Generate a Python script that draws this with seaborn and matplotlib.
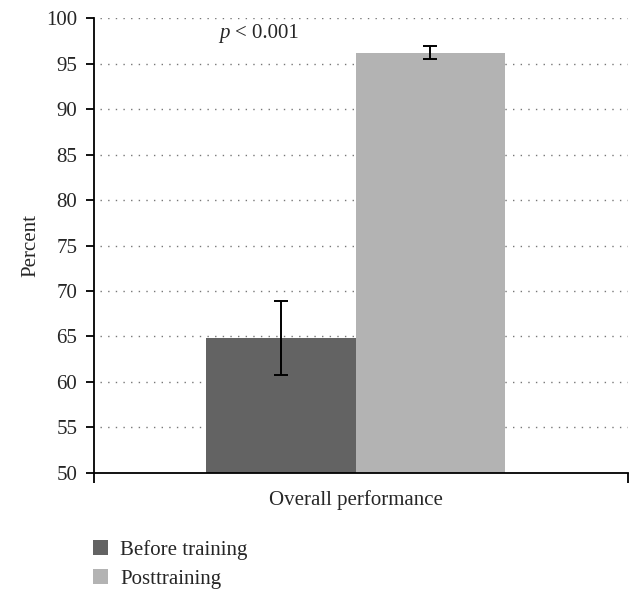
import matplotlib
matplotlib.use("Agg")
import matplotlib.pyplot as plt
import seaborn as sns
import pandas as pd
from matplotlib.patches import Patch

categories = ["Overall performance"]
groups = ["Before training", "Posttraining"]
means = [64.8, 96.2]
errors = [4.05, 0.7]
colors = ["#636363", "#b3b3b3"]
yticks = [50, 55, 60, 65, 70, 75, 80, 85, 90, 95, 100]

sns.set_theme(style="white")
plt.rcParams["font.family"] = ["Liberation Serif", "DejaVu Serif"]

df = pd.DataFrame({"cat": categories * len(groups), "group": groups, "val": means})

fig = plt.figure(figsize=(6.33, 6.01), dpi=100)
ax = fig.add_axes([0.1485, 0.213, 0.8435, 0.757])

for y in yticks[1:]:
    ax.axhline(y, xmin=0.012, color="#777777", lw=1.0, ls=(0, (1, 4.5)), zorder=0)

sns.barplot(data=df, x="cat", y="val", hue="group", palette=colors,
            width=0.56, errorbar=None, ax=ax, legend=False, saturation=1,
            linewidth=0, zorder=2)

centers = [p.get_x() + p.get_width() / 2 for p in ax.patches[:len(groups)]]
ax.errorbar(centers, means, yerr=errors, fmt="none", ecolor="black",
            elinewidth=1.4, capsize=5, capthick=1.4, zorder=3)

ax.set_ylim(50, 100)
ax.set_xlim(-0.49, 0.51)
ax.set_yticks(yticks)
ax.set_yticklabels([str(t) for t in yticks], fontsize=15)
ax.set_xticks([-0.49, 0.51])
ax.set_xticklabels(["", ""])
ax.text(0.0, -0.038, categories[0], transform=ax.get_xaxis_transform(),
        ha="center", va="top", fontsize=15)
ax.set_xlabel("")
ax.set_ylabel("Percent", fontsize=15, labelpad=4)

for s in ["top", "right"]:
    ax.spines[s].set_visible(False)
for s in ["left", "bottom"]:
    ax.spines[s].set_color("black")
    ax.spines[s].set_linewidth(1.3)
ax.tick_params(axis="y", direction="out", length=6, width=1.3, color="black", left=True, pad=6)
ax.tick_params(axis="x", direction="out", length=7, width=1.3, color="black", bottom=True)

ax.text(-0.255, 98.3, "p", fontsize=15, fontstyle="italic", ha="left", va="center")
ax.text(-0.225, 98.3, "< 0.001", fontsize=15, ha="left", va="center")

handles = [Patch(facecolor=c, edgecolor="none") for c in colors]
fig.legend(handles, groups, loc="upper left", bbox_to_anchor=(0.117, 0.133),
           frameon=False, fontsize=15, handlelength=0.75, handleheight=0.75,
           handletextpad=0.55, labelspacing=0.45)

fig.savefig("out.png", dpi=100)
